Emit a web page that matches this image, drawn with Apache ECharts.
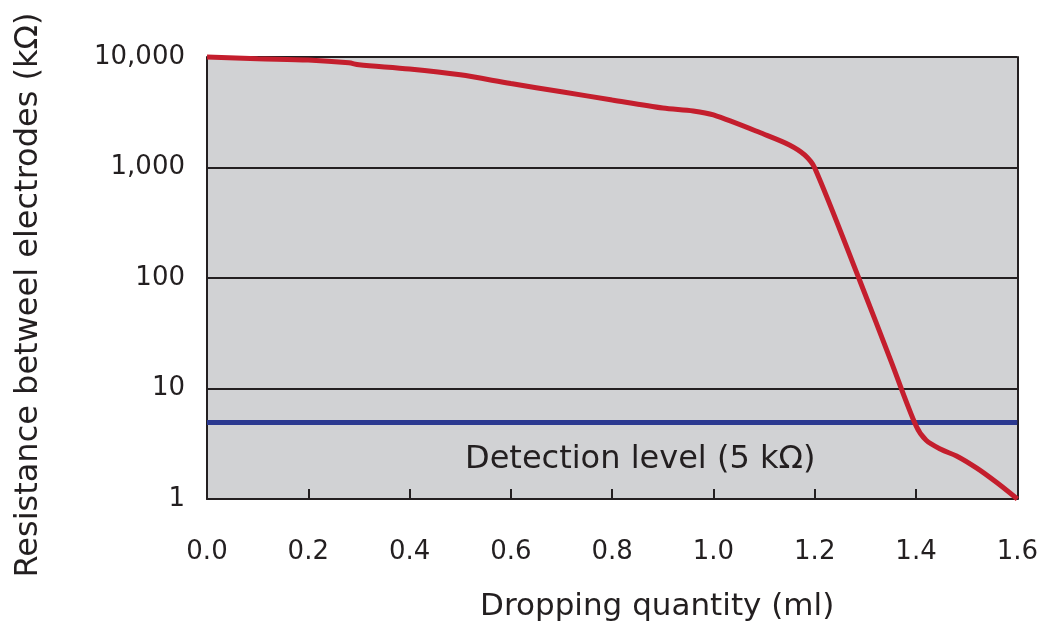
<!DOCTYPE html>
<html>
<head>
<meta charset="utf-8">
<script src="https://cdn.jsdelivr.net/npm/echarts@6/dist/echarts.min.js"></script>
<style>html,body{margin:0;padding:0;background:#fff}#c{width:1041px;height:629px}</style>
</head>
<body>
<div id="c"></div>
<script>
const xValues = [0.0, 0.1, 0.2, 0.28, 0.3, 0.4, 0.5, 0.6, 0.7, 0.8, 0.9, 0.96, 1.0, 1.1, 1.15, 1.18, 1.2, 1.29, 1.35, 1.4, 1.42, 1.45, 1.48, 1.52, 1.56, 1.6];
const resistance = [10000, 9650, 9400, 8850, 8500, 7800, 6900, 5750, 4850, 4080, 3450, 3250, 2990, 2000, 1600, 1300, 990, 92, 18, 4.6, 3.4, 2.8, 2.45, 1.9, 1.4, 1.0];
const detectionLevel = 5;
const detectionLabel = 'Detection level (5 kΩ)';
const xTicks = ['0.0','0.2','0.4','0.6','0.8','1.0','1.2','1.4','1.6'];
const yTicks = [1, 10, 100, 1000, 10000];

const chart = echarts.init(document.getElementById('c'));
const tickFont = 'DejaVu Sans';
const nameFont = 'DejaVu Sans';
chart.setOption({
  animation: false,
  grid: {left: 207, right: 22, top: 57, bottom: 130, show: true, backgroundColor: '#d1d2d4', borderWidth: 0},
  xAxis: {
    type: 'value', min: 0, max: 1.6, interval: 0.2,
    name: 'Dropping quantity (ml)', nameLocation: 'middle', nameGap: 92,
    nameTextStyle: {fontFamily: nameFont, fontSize: 31, color: '#231f20', verticalAlign: 'top', padding: [0, 0, 0, 90]},
    axisLine: {lineStyle: {color: '#231f20', width: 2}},
    axisTick: {inside: true, length: 10, lineStyle: {color: '#231f20', width: 2}},
    axisLabel: {fontFamily: tickFont, fontSize: 26, color: '#231f20', margin: 40,
      formatter: v => v.toFixed(1)},
    splitLine: {show: false}
  },
  yAxis: [{
    type: 'log', logBase: 10, min: 1, max: 10000,
    name: 'Resistance betweel electrodes (kΩ)', nameLocation: 'middle', nameGap: 162,
    nameTextStyle: {fontFamily: nameFont, fontSize: 32, color: '#231f20', padding: [0, 34, 0, 0]},
    axisLine: {show: true, lineStyle: {color: '#231f20', width: 2}},
    axisTick: {show: false},
    axisLabel: {fontFamily: tickFont, fontSize: 26, color: '#231f20', margin: 22, padding: [8, 0, 0, 0],
      formatter: v => Math.round(v).toLocaleString('en-US')},
    splitLine: {show: true, lineStyle: {color: '#231f20', width: 2}}
  }, {
    type: 'log', min: 1, max: 10000, position: 'right',
    axisLine: {show: true, lineStyle: {color: '#231f20', width: 2}},
    axisTick: {show: false}, axisLabel: {show: false}, splitLine: {show: false}
  }],
  series: [{
    type: 'line',
    data: xValues.map((x, i) => [x, resistance[i]]),
    showSymbol: false, smooth: 0.3,
    lineStyle: {color: '#c41e2d', width: 5},
    clip: false,
    z: 5,
    markLine: {
      silent: true, symbol: 'none',
      lineStyle: {color: '#2b3990', width: 5, type: 'solid'},
      label: {show: false},
      data: [{yAxis: detectionLevel}],
      z: 4
    }
  }],
  graphic: [{
    type: 'text', left: 465, top: 444,
    style: {text: detectionLabel, fontFamily: tickFont, fontSize: 32, fill: '#231f20'}
  }]
});
</script>
</body>
</html>
